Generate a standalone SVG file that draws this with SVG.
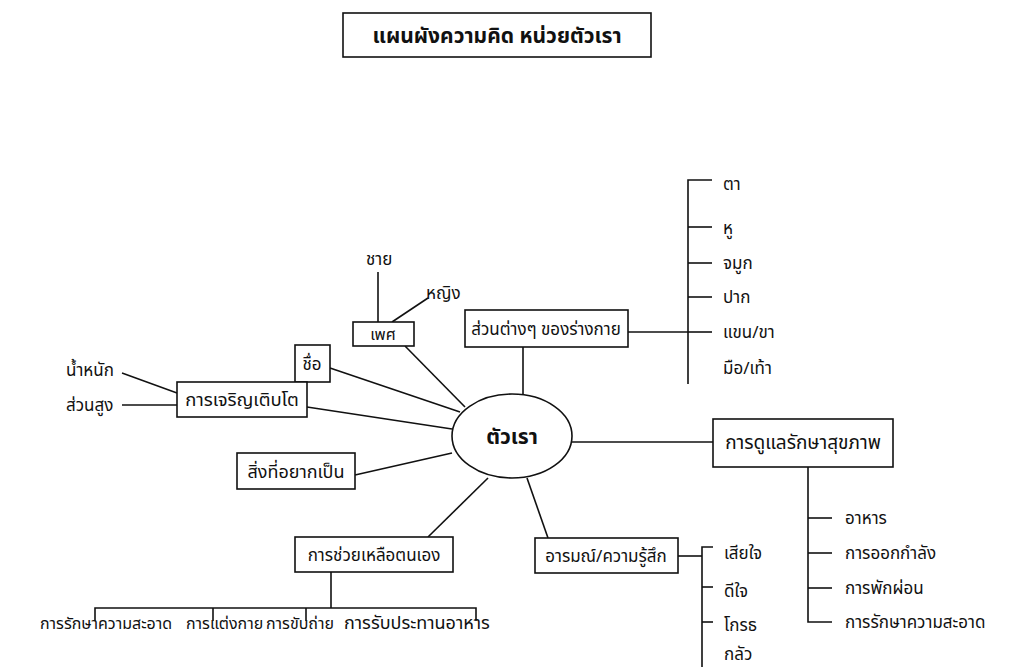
<svg xmlns="http://www.w3.org/2000/svg" width="1013" height="667" viewBox="0 0 1013 667">
<style>
text{font-family:"Noto Sans Thai","Noto Sans","DejaVu Sans","Liberation Sans",sans-serif;font-size:17px;fill:#111;}
.c{text-anchor:middle;}
.b{font-weight:bold;}
.box{fill:#fff;stroke:#111;stroke-width:1.6;}
.ln{stroke:#111;stroke-width:1.6;fill:none;}
.row{font-size:16px;}
</style>
<rect width="1013" height="667" fill="#fff"/>
<g id="connectors">
<line class="ln" x1="378" y1="272" x2="378" y2="322"/>
<line class="ln" x1="392" y1="322" x2="428" y2="298"/>
<line class="ln" x1="405" y1="346" x2="465" y2="407"/>
<line class="ln" x1="330" y1="368" x2="460" y2="412"/>
<line class="ln" x1="122" y1="373" x2="177" y2="393"/>
<line class="ln" x1="122" y1="405" x2="177" y2="405"/>
<line class="ln" x1="307" y1="407" x2="452" y2="429"/>
<line class="ln" x1="355" y1="475" x2="452" y2="453"/>
<line class="ln" x1="523" y1="347" x2="523" y2="394"/>
<line class="ln" x1="628" y1="332" x2="688" y2="332"/>
<polyline class="ln" points="712,180 688,180 688,384"/>
<line class="ln" x1="688" y1="227" x2="712" y2="227"/>
<line class="ln" x1="688" y1="263" x2="712" y2="263"/>
<line class="ln" x1="688" y1="297" x2="712" y2="297"/>
<line class="ln" x1="688" y1="332" x2="712" y2="332"/>
<line class="ln" x1="572" y1="442" x2="713" y2="442"/>
<polyline class="ln" points="808,467 808,622 832,622"/>
<line class="ln" x1="808" y1="518" x2="832" y2="518"/>
<line class="ln" x1="808" y1="553" x2="832" y2="553"/>
<line class="ln" x1="808" y1="588" x2="832" y2="588"/>
<line class="ln" x1="527" y1="478" x2="548" y2="538"/>
<line class="ln" x1="678" y1="556" x2="702" y2="556"/>
<polyline class="ln" points="713,547 702,547 702,667"/>
<line class="ln" x1="702" y1="587" x2="713" y2="587"/>
<line class="ln" x1="702" y1="622" x2="713" y2="622"/>
<line class="ln" x1="488" y1="478" x2="428" y2="537"/>
<line class="ln" x1="331" y1="572" x2="331" y2="608"/>
<polyline class="ln" points="95,621 95,608 476,608 476,621"/>
<line class="ln" x1="213" y1="608" x2="213" y2="621"/>
<line class="ln" x1="306" y1="608" x2="306" y2="621"/>
</g>
<g id="title"><rect class="box" x="343" y="13" width="308" height="44"/><text class="c b" x="497" y="43" style="font-size:21px">แผนผังความคิด หน่วยตัวเรา</text></g>
<g id="center"><ellipse class="box" cx="512" cy="436" rx="60" ry="42" stroke-width="2.2"/><text class="c b" x="512" y="444" style="font-size:21px">ตัวเรา</text></g>
<g id="sex"><rect class="box" x="353" y="322" width="61" height="24"/><text class="c" x="383" y="340" style="font-size:16px">เพศ</text></g>
<g id="male"><text x="366" y="265">ชาย</text></g>
<g id="female"><text x="426" y="299">หญิง</text></g>
<g id="body"><rect class="box" x="465" y="310" width="163" height="37"/><text class="c" x="546" y="335">ส่วนต่างๆ ของร่างกาย</text></g>
<g id="eye"><text x="723" y="190">ตา</text></g>
<g id="ear"><text x="723" y="234">หู</text></g>
<g id="nose"><text x="723" y="269">จมูก</text></g>
<g id="mouth"><text x="723" y="303">ปาก</text></g>
<g id="limbs"><text x="723" y="338">แขน/ขา</text></g>
<g id="handsfeet"><text x="723" y="374">มือ/เท้า</text></g>
<g id="name"><rect class="box" x="295" y="345" width="35" height="37"/><text class="c" x="312" y="370">ชื่อ</text></g>
<g id="growth"><rect class="box" x="177" y="382" width="130" height="35"/><text class="c" x="242" y="406" style="font-size:18.5px">การเจริญเติบโต</text></g>
<g id="weight"><text x="66" y="376">น้ำหนัก</text></g>
<g id="height"><text x="66" y="411">ส่วนสูง</text></g>
<g id="dream"><rect class="box" x="237" y="453" width="118" height="36"/><text class="c" x="296" y="478" style="font-size:18px">สิ่งที่อยากเป็น</text></g>
<g id="health"><rect class="box" x="713" y="419" width="180" height="48"/><text class="c" x="803" y="449" style="font-size:19px">การดูแลรักษาสุขภาพ</text></g>
<g id="food"><text x="845" y="524">อาหาร</text></g>
<g id="exercise"><text x="845" y="559">การออกกำลัง</text></g>
<g id="rest"><text x="845" y="594">การพักผ่อน</text></g>
<g id="clean"><text x="845" y="628">การรักษาความสะอาด</text></g>
<g id="emotion"><rect class="box" x="535" y="538" width="143" height="35"/><text class="c" x="606" y="562">อารมณ์/ความรู้สึก</text></g>
<g id="sad"><text x="724" y="559">เสียใจ</text></g>
<g id="happy"><text x="724" y="597">ดีใจ</text></g>
<g id="angry"><text x="724" y="631">โกรธ</text></g>
<g id="fear"><text x="724" y="660">กลัว</text></g>
<g id="selfhelp"><rect class="box" x="295" y="537" width="158" height="35"/><text class="c" x="374" y="561">การช่วยเหลือตนเอง</text></g>
<g id="hygiene"><text class="row" x="40" y="629">การรักษาความสะอาด</text></g>
<g id="dressing"><text class="row" x="186" y="629">การแต่งกาย</text></g>
<g id="excretion"><text class="row" x="266" y="629">การขับถ่าย</text></g>
<g id="eating"><text class="row" x="344" y="629" style="font-size:18px">การรับประทานอาหาร</text></g>
</svg>
